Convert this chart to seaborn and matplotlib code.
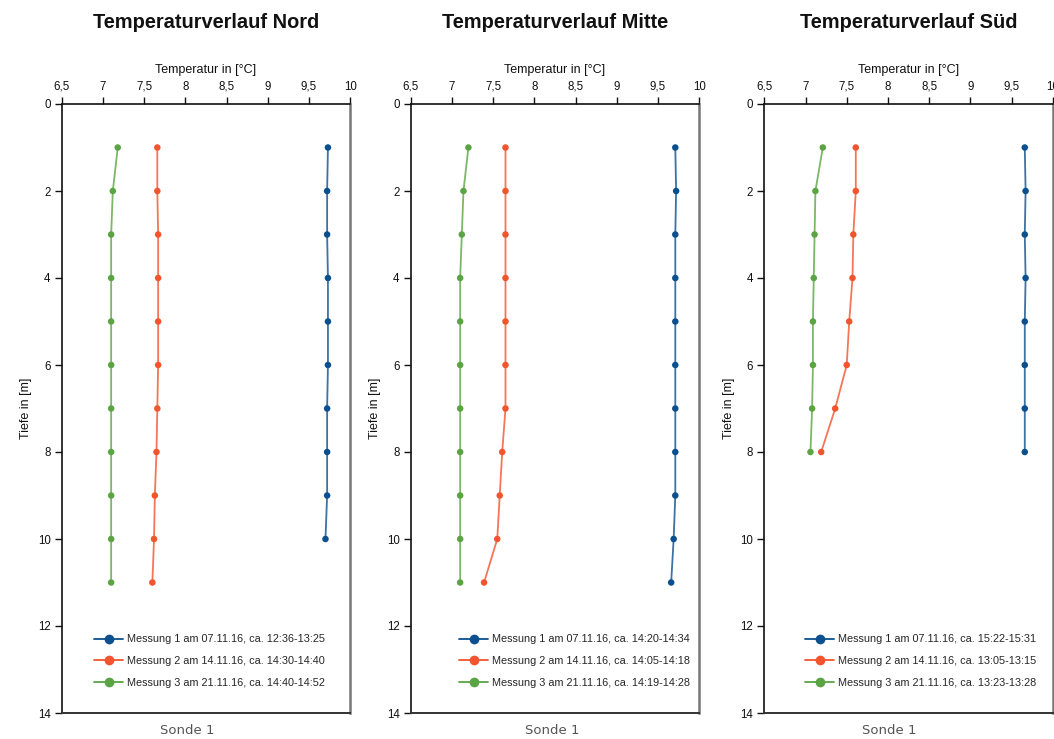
import numpy as np
import pandas as pd
import matplotlib
matplotlib.use("Agg")
import matplotlib.pyplot as plt
from matplotlib.lines import Line2D
from matplotlib.ticker import FuncFormatter
import seaborn as sns

# ---------------- data ----------------
panel_titles = ["Temperaturverlauf Nord", "Temperaturverlauf Mitte", "Temperaturverlauf Süd"]
series_names = ["Messung 1", "Messung 2", "Messung 3"]

nord_depth = [1, 2, 3, 4, 5, 6, 7, 8, 9, 10, 11]
nord_m1 = [9.73, 9.72, 9.72, 9.73, 9.73, 9.73, 9.72, 9.72, 9.72, 9.70]
nord_m2 = [7.66, 7.66, 7.67, 7.67, 7.67, 7.67, 7.66, 7.65, 7.63, 7.62, 7.60]
nord_m3 = [7.18, 7.12, 7.10, 7.10, 7.10, 7.10, 7.10, 7.10, 7.10, 7.10, 7.10]
nord_labels = ["Messung 1 am 07.11.16, ca. 12:36-13:25",
               "Messung 2 am 14.11.16, ca. 14:30-14:40",
               "Messung 3 am 21.11.16, ca. 14:40-14:52"]

mitte_depth = [1, 2, 3, 4, 5, 6, 7, 8, 9, 10, 11]
mitte_m1 = [9.71, 9.72, 9.71, 9.71, 9.71, 9.71, 9.71, 9.71, 9.71, 9.69, 9.66]
mitte_m2 = [7.65, 7.65, 7.65, 7.65, 7.65, 7.65, 7.65, 7.61, 7.58, 7.55, 7.39]
mitte_m3 = [7.20, 7.14, 7.12, 7.10, 7.10, 7.10, 7.10, 7.10, 7.10, 7.10, 7.10]
mitte_labels = ["Messung 1 am 07.11.16, ca. 14:20-14:34",
                "Messung 2 am 14.11.16, ca. 14:05-14:18",
                "Messung 3 am 21.11.16, ca. 14:19-14:28"]

sued_depth = [1, 2, 3, 4, 5, 6, 7, 8]
sued_m1 = [9.66, 9.67, 9.66, 9.67, 9.66, 9.66, 9.66, 9.66]
sued_m2 = [7.61, 7.61, 7.58, 7.57, 7.53, 7.50, 7.36, 7.19]
sued_m3 = [7.21, 7.12, 7.11, 7.10, 7.09, 7.09, 7.08, 7.06]
sued_labels = ["Messung 1 am 07.11.16, ca. 15:22-15:31",
               "Messung 2 am 14.11.16, ca. 13:05-13:15",
               "Messung 3 am 21.11.16, ca. 13:23-13:28"]

x_ticks = [6.5, 7, 7.5, 8, 8.5, 9, 9.5, 10]
y_ticks = [0, 2, 4, 6, 8, 10, 12, 14]
x_label = "Temperatur in [°C]"
y_label = "Tiefe in [m]"
sub_label = "Sonde 1"

# ---------------- style ----------------
sns.set_theme(style="ticks")
plt.rcParams["font.family"] = ["Liberation Sans", "DejaVu Sans"]

colors = {"Messung 1": "#0b4f8e", "Messung 2": "#f2542d", "Messung 3": "#5ba443"}

fig = plt.figure(figsize=(10.54, 7.39), dpi=100)

panels = [
    (nord_depth, [nord_m1, nord_m2, nord_m3], nord_labels),
    (mitte_depth, [mitte_m1, mitte_m2, mitte_m3], mitte_labels),
    (sued_depth, [sued_m1, sued_m2, sued_m3], sued_labels),
]

ax_lefts = [61.7, 410.7, 764.3]
ax_w = 288.5
ax_top = 104
ax_bot = 713
W, H = 1054, 739
legend_x = [0.112, 0.168, 0.141]
sonde_x = [187, 552, 889]

for i, (depth, series, labels) in enumerate(panels):
    ax = fig.add_axes([ax_lefts[i] / W, 1 - ax_bot / H, ax_w / W, (ax_bot - ax_top) / H])
    rows = []
    for name, vals in zip(series_names, series):
        for d, v in zip(depth, vals):
            rows.append({"Messung": name, "Tiefe": d, "Temperatur": v})
    df = pd.DataFrame(rows)

    sns.lineplot(data=df, x="Temperatur", y="Tiefe", hue="Messung", palette=colors,
                 orient="y", sort=True, estimator=None, lw=1.3, alpha=0.8,
                 legend=False, ax=ax)
    sns.scatterplot(data=df, x="Temperatur", y="Tiefe", hue="Messung", palette=colors,
                    s=22, linewidth=0, legend=False, ax=ax, zorder=3)

    ax.set_xlim(6.5, 10)
    ax.set_ylim(14, 0)
    ax.set_xticks(x_ticks)
    ax.set_yticks(y_ticks)
    ax.xaxis.set_major_formatter(FuncFormatter(lambda v, p: f"{v:g}".replace(".", ",")))
    ax.xaxis.tick_top()
    ax.xaxis.set_label_position("top")
    ax.tick_params(axis="both", labelsize=8.3, length=5, width=1, colors="#111111",
                   direction="out", pad=3)
    ax.set_xlabel(x_label, fontsize=9, labelpad=6, color="#111111")
    ax.set_ylabel(y_label, fontsize=9, labelpad=4, color="#111111")
    for s in ["top", "left"]:
        ax.spines[s].set_color("#111111")
        ax.spines[s].set_linewidth(1.2)
    ax.spines["right"].set_visible(True)
    ax.spines["bottom"].set_visible(True)
    ax.spines["right"].set_color("#777777")
    ax.spines["right"].set_linewidth(1.8)
    ax.spines["bottom"].set_color("#333333")
    ax.spines["bottom"].set_linewidth(1.4)

    handles = [Line2D([0], [0], color=colors[n], lw=1.3, marker="o", markersize=7,
                      markeredgewidth=0) for n in series_names]
    ax.legend(handles, labels, loc="center left", bbox_to_anchor=(legend_x[i], 0.085),
              frameon=False, fontsize=7.8, borderaxespad=0, borderpad=0,
              handlelength=2.7, handletextpad=0.35, labelspacing=1.1)

    cx = (ax_lefts[i] + ax_w / 2) / W
    fig.text(cx, 1 - 23 / H, panel_titles[i], ha="center", va="center",
             fontsize=14.4, fontweight="bold", color="#111111")
    fig.text(sonde_x[i] / W, 1 - 730 / H, sub_label, ha="center", va="center",
             fontsize=9.5, color="#555555", family=["DejaVu Sans"])

fig.savefig("out.png", dpi=100, facecolor="white")
